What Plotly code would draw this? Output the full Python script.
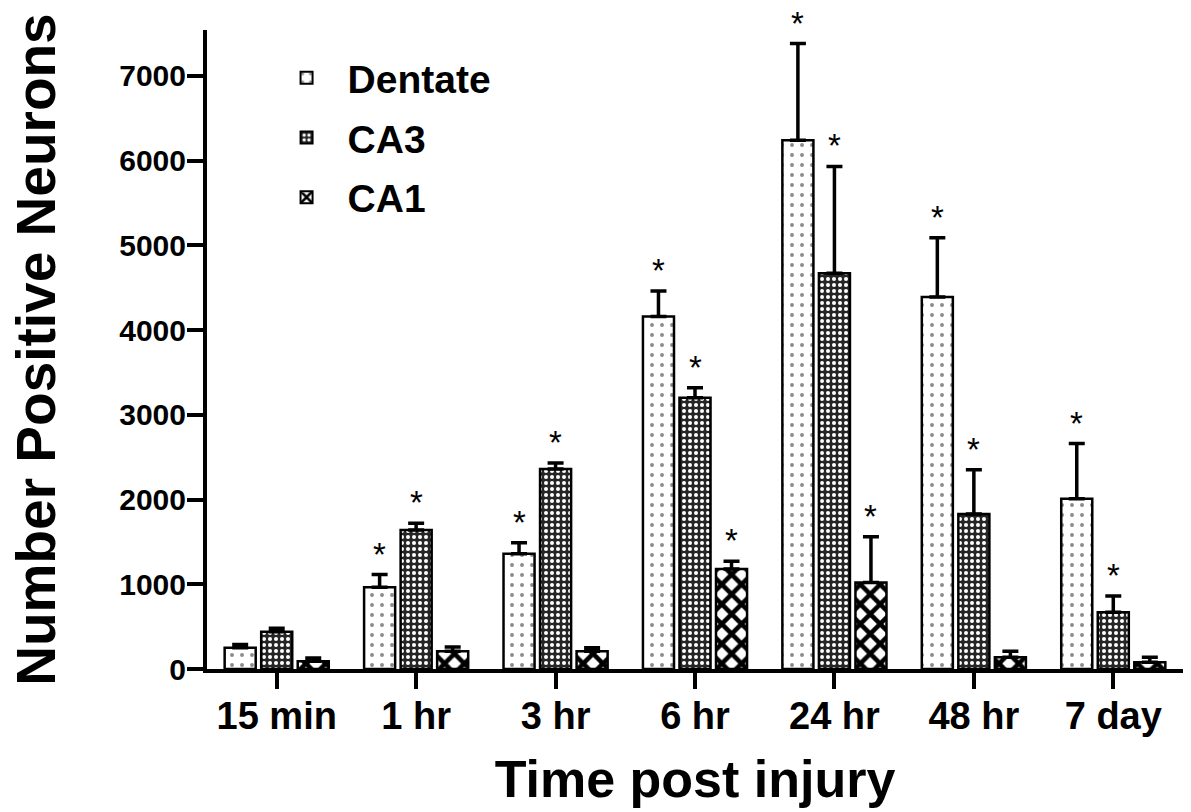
import plotly.graph_objects as go

categories = ["15 min", "1 hr", "3 hr", "6 hr", "24 hr", "48 hr", "7 day"]
series_names = ["Dentate", "CA3", "CA1"]

dentate_mean = [250, 965, 1360, 4160, 6240, 4390, 2010]
dentate_err = [40, 150, 130, 300, 1140, 700, 650]
ca3_mean = [440, 1640, 2360, 3200, 4670, 1830, 670]
ca3_err = [40, 80, 70, 120, 1260, 520, 190]
ca1_mean = [90, 210, 210, 1180, 1020, 140, 80]
ca1_err = [40, 50, 40, 90, 540, 70, 60]

# significance markers (1 = asterisk shown)
dentate_sig = [0, 1, 1, 1, 1, 1, 1]
ca3_sig = [0, 1, 1, 1, 1, 1, 1]
ca1_sig = [0, 0, 0, 1, 1, 0, 0]

FONT = "Liberation Sans, Arial, sans-serif"

means = [dentate_mean, ca3_mean, ca1_mean]
errs = [dentate_err, ca3_err, ca1_err]
sigs = [dentate_sig, ca3_sig, ca1_sig]

patterns = [
    dict(shape=".", fgcolor="#8a8a8a", bgcolor="white", size=10, solidity=0.12, fgopacity=1),
    dict(shape=".", fgcolor="white", bgcolor="#262626", size=6, solidity=0.36, fgopacity=1),
    dict(shape="x", fgcolor="black", bgcolor="white", size=14, solidity=0.55, fgopacity=1),
]

fig = go.Figure()
for name, m, e, p in zip(series_names, means, errs, patterns):
    fig.add_trace(go.Bar(
        name=name, x=categories, y=m, legendgroup=name,
        marker=dict(color=p["bgcolor"], line=dict(color="black", width=2.5), pattern=p),
        error_y=dict(type="data", symmetric=False, array=e, arrayminus=[0] * len(e),
                     color="black", thickness=3.5, width=8),
    ))

shifts = [-36.5, 0, 36.5]
for m, e, s, sh in zip(means, errs, sigs, shifts):
    for c, mv, ev, sv in zip(categories, m, e, s):
        if sv:
            fig.add_annotation(x=c, y=mv + ev, text="*", showarrow=False,
                               xshift=sh, yshift=0, yanchor="bottom",
                               font=dict(family=FONT, size=33, color="black"))

fig.add_annotation(text="Number Positive Neurons", xref="paper", yref="paper",
                   x=-0.176, y=0.5, xanchor="center", yanchor="middle",
                   textangle=-90, showarrow=False,
                   font=dict(family=FONT, size=55, color="black", weight="bold"))

fig.update_layout(
    width=1191, height=812,
    margin=dict(l=207, r=8, t=30, b=143),
    paper_bgcolor="white", plot_bgcolor="white",
    barmode="group", bargap=0.214, bargroupgap=0.15,
    font=dict(family=FONT, color="black"),
    showlegend=True,
    legend=dict(x=0.06, y=0.975, xanchor="left", yanchor="top",
                font=dict(family=FONT, size=39, color="black", weight="bold"),
                bgcolor="rgba(0,0,0,0)", tracegroupgap=6, itemwidth=72,
                itemsizing="constant"),
    xaxis=dict(
        showline=True, linecolor="black", linewidth=4,
        ticks="outside", ticklen=16, tickwidth=4, tickcolor="black",
        ticklabelstandoff=-6,
        tickfont=dict(family=FONT, size=38, color="black", weight="bold"),
        title=dict(text="Time post injury", standoff=26,
                   font=dict(family=FONT, size=52, color="black", weight="bold")),
        showgrid=False, zeroline=False,
    ),
    yaxis=dict(
        range=[0, 7540],
        tickvals=[0, 1000, 2000, 3000, 4000, 5000, 6000, 7000],
        showline=True, linecolor="black", linewidth=4,
        ticks="outside", ticklen=16, tickwidth=4, tickcolor="black",
        ticklabelstandoff=-5,
        tickfont=dict(family=FONT, size=30, color="black", weight="bold"),
        showgrid=False, zeroline=False,
    ),
)

fig.write_html("out.html")
